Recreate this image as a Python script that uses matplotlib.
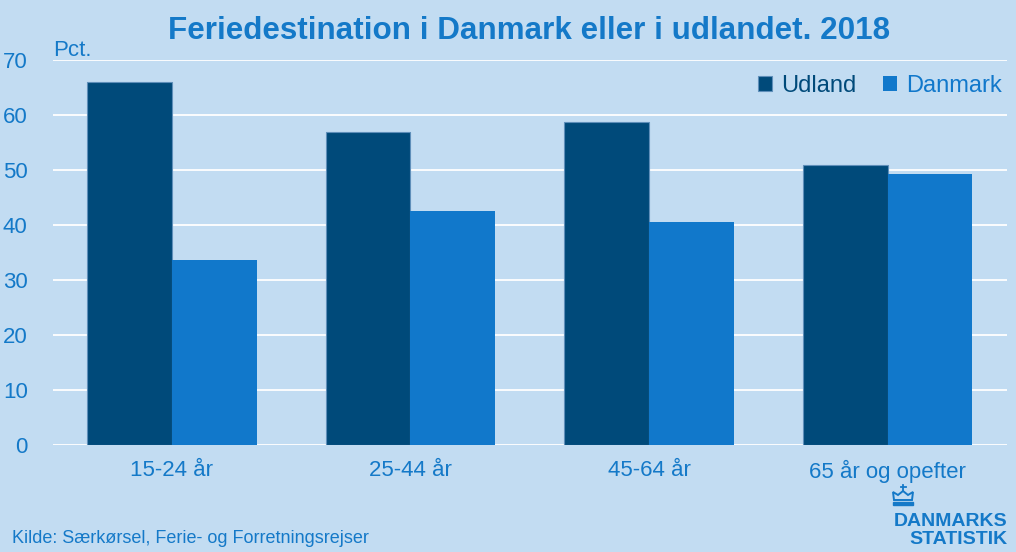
import matplotlib
matplotlib.use("Agg")
import matplotlib.pyplot as plt
import numpy as np
from matplotlib.patches import Polygon, Rectangle

# data
groups = ["15-24 år", "25-44 år", "45-64 år", "65 år og opefter"]
udland = [66.0, 56.9, 58.8, 50.9]
danmark = [33.7, 42.6, 40.6, 49.3]
series_names = ["Udland", "Danmark"]
yticks = [0, 10, 20, 30, 40, 50, 60, 70]

bg = "#C2DCF2"
dark = "#004A7A"
blue = "#1178CB"
txt = "#1479C8"

plt.rcParams["font.family"] = ["Liberation Sans", "DejaVu Sans"]

fig = plt.figure(figsize=(10.16, 5.52), dpi=100, facecolor=bg)
ax = fig.add_axes([0.0519, 0.1938, 0.939, 0.697])
ax.set_facecolor(bg)

x = np.arange(len(groups))
w = 0.356
ax.bar(x - w / 2, udland, w, color=dark, edgecolor="#5F8FBA", linewidth=0.8,
       label=series_names[0], zorder=3)
ax.bar(x + w / 2, danmark, w, color=blue, edgecolor=blue, linewidth=0.0,
       label=series_names[1], zorder=3)

ax.set_xlim(-0.5, 3.5)
ax.set_ylim(0, 70)
ax.set_yticks(yticks)
ax.set_xticks(x)
ax.set_xticklabels(groups)
ax.grid(axis="y", color="white", linewidth=1.3, zorder=0)
for s in ax.spines.values():
    s.set_visible(False)
ax.tick_params(axis="both", length=0, labelsize=16, labelcolor=txt)
ax.tick_params(axis="y", pad=18)
ax.tick_params(axis="x", pad=11)

ax.text(0.0, 1.012, "Pct.", transform=ax.transAxes, fontsize=16,
        color=txt, ha="left", va="baseline")

leg = ax.legend(loc="upper right", bbox_to_anchor=(1.005, 0.987), ncol=2,
                frameon=False, fontsize=17, handlelength=0.6,
                handleheight=0.6, handletextpad=0.4, columnspacing=1.1,
                labelcolor="linecolor", borderaxespad=0.0)

fig.text(0.521, 0.943, "Feriedestination i Danmark eller i udlandet. 2018",
         ha="center", va="center", fontsize=22.6, fontweight="bold", color=txt)

fig.text(0.0115, 0.009, "Kilde: Særkørsel, Ferie- og Forretningsrejser",
         fontsize=13, color=txt, ha="left", va="bottom")

# logo
fig.text(0.9915, 1 - 526 / 552, "DANMARKS", fontsize=14, fontweight="bold",
         color=txt, ha="right", va="baseline")
fig.text(0.9915, 1 - 544 / 552, "STATISTIK", fontsize=14, fontweight="bold",
         color=txt, ha="right", va="baseline")


def px(p):
    return (p[0] / 1016, 1 - p[1] / 552)


cx = 903
crown = [(cx - 9, 500), (cx - 10, 492), (cx - 5, 495), (cx, 491),
         (cx + 5, 495), (cx + 10, 492), (cx + 9, 500)]
fig.patches.append(Polygon([px(p) for p in crown], closed=True,
                           transform=fig.transFigure, facecolor="none",
                           edgecolor=txt, linewidth=1.4))
fig.patches.append(Rectangle(px((cx - 10, 505)), 20 / 1016, 3 / 552,
                             transform=fig.transFigure, color=txt))
fig.lines.append(plt.Line2D([px((cx, 491))[0], px((cx, 485))[0]],
                            [px((cx, 491))[1], px((cx, 485))[1]],
                            transform=fig.transFigure, color=txt, lw=1.3))
fig.lines.append(plt.Line2D([px((cx - 2.5, 487))[0], px((cx + 2.5, 487))[0]],
                            [px((cx, 487))[1], px((cx, 487))[1]],
                            transform=fig.transFigure, color=txt, lw=1.3))

fig.savefig("out.png", dpi=100, facecolor=bg)
